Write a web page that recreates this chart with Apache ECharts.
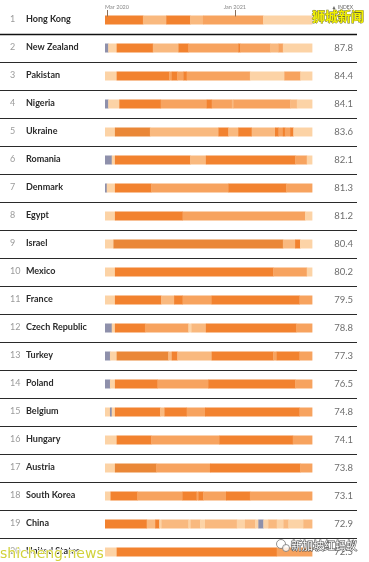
<!DOCTYPE html>
<html><head><meta charset="utf-8">
<script src="https://cdn.jsdelivr.net/npm/echarts@6/dist/echarts.min.js"></script>
<style>html,body{margin:0;padding:0;background:#fff}#c{width:369px;height:562px}</style>
</head><body><div id="c"></div>
<script>
// ---- data ----
const countries = ['Hong Kong','New Zealand','Pakistan','Nigeria','Ukraine','Romania','Denmark','Egypt','Israel','Mexico','France','Czech Republic','Turkey','Poland','Belgium','Hungary','Austria','South Korea','China','United States'];
const ranks = [1,2,3,4,5,6,7,8,9,10,11,12,13,14,15,16,17,18,19,20];
const indexValues = [null,87.8,84.4,84.1,83.6,82.1,81.3,81.2,80.4,80.2,79.5,78.8,77.3,76.5,74.8,74.1,73.8,73.1,72.9,72.5];
// weeks since 24 Feb 2020
const weekEnd = 71;
const tickWeeks = [0.71, 44.57];
const tickLabels = ['Mar 2020', 'Jan 2021'];
// each stripe: [startWeek, level] ; level 0 = grey, 1..5 = pale .. dark orange
const stripes = [
  [[0,4],[13,2],[21,4],[29.2,2],[33.6,3],[54.2,1]],
  [[0,0],[1.1,1],[4,4],[16.4,2],[25.2,4],[28.6,3],[45.7,4],[46.3,3],[56.6,2],[59.5,3],[61,1]],
  [[0,1],[4,4],[22,3],[22.9,4],[24.8,3],[26.9,4],[28,3],[49.7,1],[61.5,3],[67,1]],
  [[0,0],[1.1,1],[4.9,4],[19.1,3],[34.9,4],[36.6,3],[43.5,2],[44,3],[63.5,2],[65.8,1]],
  [[0,1],[3.4,5],[15.4,2],[38.9,4],[42.3,2],[45.7,4],[50.3,2],[58.3,4],[59.5,3],[61,4],[61.7,3],[63.5,4],[64.6,1]],
  [[0,0],[2.3,1],[3.4,4],[29.2,2],[34.6,4],[65.2,3],[69.2,1]],
  [[0,0],[0.6,1],[3.4,4],[15.8,3],[42.3,4],[62.1,3]],
  [[0,1],[3.4,4],[26.6,3],[68.6,1]],
  [[0,1],[2.9,5],[61,2],[65.2,4],[66.9,1]],
  [[0,1],[3.4,4],[57.7,3],[69.2,1]],
  [[0,1],[3.4,4],[19.2,2],[23.7,4],[26.6,3],[36.6,4],[66.7,3]],
  [[0,0],[2.3,1],[3.4,4],[13.7,3],[28.6,1],[29.7,2],[34.6,4],[65.5,3]],
  [[0,0],[1.7,1],[4,5],[21.7,2],[22.9,4],[24.8,2],[36.6,4],[57.7,3],[58.9,4],[66.7,3]],
  [[0,0],[1.7,1],[3.4,4],[18,3],[35.4,4],[65.2,3]],
  [[0,1],[1.7,0],[2.3,1],[3.4,4],[18.9,2],[20.4,4],[28,3],[34.3,4],[66.7,3]],
  [[0,1],[4,4],[15.8,3],[39.2,4],[64.4,3]],
  [[0,1],[3.4,5],[17.5,3],[36,4],[66.9,3]],
  [[0,1],[1.9,4],[11.1,3],[26.6,4],[31.4,3],[32,4],[33.7,3],[41.5,4],[49.7,3]],
  [[0,4],[14.3,2],[17.2,4],[18.6,1],[19.4,2],[28.6,1],[29.4,2],[32.6,1],[34.3,2],[45.2,1],[48,2],[51.5,1],[52.6,0],[54.3,1],[56,2],[58.9,1],[61.2,2],[62.9,1],[68,2]],
  [[0,1],[4,4],[58.9,3]]
];
const levelColors = ['#8e90ab','#fcd3a6','#f9b97f','#f7a35f','#f2822f','#ea8737'];

// ---- build ----
const segData = [];
stripes.forEach((segs, row) => {
  segs.forEach((s, j) => {
    const end = j + 1 < segs.length ? segs[j + 1][0] : weekEnd;
    segData.push([s[0], end, row, s[1]]);
  });
});
const sepData = countries.slice(1).map((c, i) => [0, i]);
const tickData = tickWeeks.map(w => [w, 0]);

const chart = echarts.init(document.getElementById('c'), null, {renderer: 'canvas'});
chart.setOption({
  animation: false,
  backgroundColor: '#fff',
  grid: {left: 105, top: 6, width: 207, height: 560, containLabel: false, outerBoundsMode: 'none'},
  xAxis: {type: 'value', min: 0, max: weekEnd, show: false},
  yAxis: [{
    type: 'category', inverse: true, data: countries,
    axisLine: {show: false}, axisTick: {show: false}, splitLine: {show: false},
    axisLabel: {
      interval: 0, align: 'left', margin: 95,
      formatter: (v, i) => '{r|' + ranks[i] + '}{n|' + v + '}',
      rich: {
        r: {width: 16, fontSize: 9, color: '#9a9a9a', fontFamily: 'Lato', padding: [0, 0, 1, 0]},
        n: {fontSize: 9, fontWeight: 'bold', color: '#2b2b2b', fontFamily: 'Lato', padding: [0, 0, 1, 0]}
      }
    }
  }, {
    type: 'category', inverse: true, position: 'right',
    data: indexValues.map(v => v == null ? '' : v.toFixed(1)),
    axisLine: {show: false}, axisTick: {show: false}, splitLine: {show: false},
    axisLabel: {interval: 0, align: 'right', margin: 41, fontSize: 9.5, color: '#6e6e6e', fontFamily: 'Lato', padding: [0, 0, 2, 0]}
  }],
  series: [{
    type: 'custom', name: 'stripes', data: segData,
    encode: {x: [0, 1], y: 2},
    renderItem: (params, api) => {
      const p1 = api.coord([api.value(0), api.value(2)]);
      const p2 = api.coord([api.value(1), api.value(2)]);
      const h = 9;
      return {type: 'rect', shape: {x: p1[0], y: p1[1] - h / 2, width: p2[0] - p1[0] + 0.4, height: h},
        style: {fill: levelColors[api.value(3)]}};
    }
  }, {
    type: 'custom', name: 'separators', data: sepData,
    encode: {x: 0, y: 1},
    renderItem: (params, api) => {
      const p = api.coord([0, api.value(1)]);
      const band = api.size([0, 1])[1];
      const y = Math.round(p[1] + band / 2) + 0.5;
      const cs = params.coordSys;
      return {type: 'line', shape: {x1: 0, y1: y, x2: cs.x + cs.width + 45, y2: y},
        style: {stroke: params.dataIndex === 0 ? '#111' : '#2a2a2a', lineWidth: params.dataIndex === 0 ? 1.6 : 1}};
    }
  }, {
    type: 'custom', name: 'timeTicks', data: tickData,
    encode: {x: 0, y: 1}, z: 5,
    renderItem: (params, api) => {
      const p = api.coord([api.value(0), 0]);
      const top = p[1] - 4.5;
      const x = Math.round(p[0]) + 0.5;
      const first = params.dataIndex === 0;
      return {type: 'group', children: [
        {type: 'line', shape: {x1: x, y1: top - 5.5, x2: x, y2: top + 1}, style: {stroke: '#8a6f5a', lineWidth: 1}},
        {type: 'text', x: first ? p[0] - 2 : p[0], y: top - 8.5,
          style: {text: tickLabels[params.dataIndex], align: first ? 'left' : 'center', verticalAlign: 'middle',
            fontSize: 5.5, fill: '#888', fontFamily: 'Lato'}}
      ]};
    }
  }],
  graphic: [
    {type: 'text', x: 353, y: 7.5, z: 10, style: {text: '▲ INDEX', align: 'right', verticalAlign: 'middle', fontSize: 5, fill: '#666', fontFamily: 'Lato'}},
    {type: 'text', x: 338, y: 16.5, z: 20, style: {text: '狮城新闻', align: 'center', verticalAlign: 'middle', fontSize: 13, fontWeight: 'bold',
      fontFamily: 'Noto Sans CJK SC', fill: '#f2f000', stroke: '#6b6a30', lineWidth: 0.8}},
    {type: 'text', x: 0, y: 554, z: 20, style: {text: 'shicheng.news', align: 'left', verticalAlign: 'middle', fontSize: 14,
      fontFamily: 'DejaVu Sans', fill: '#d2d23c', stroke: '#ffffff', lineWidth: 1.5}},
    {type: 'circle', shape: {cx: 281, cy: 544, r: 4.5}, z: 20, style: {fill: 'rgba(255,255,255,0.8)', stroke: '#777', lineWidth: 0.8}},
    {type: 'circle', shape: {cx: 286, cy: 548, r: 3.5}, z: 20, style: {fill: 'rgba(255,255,255,0.8)', stroke: '#777', lineWidth: 0.8}},
    {type: 'text', x: 357, y: 546, z: 20, style: {text: '新加坡红蚂蚁', align: 'right', verticalAlign: 'middle', fontSize: 11,
      fontFamily: 'Noto Sans CJK SC', fill: '#ffffff', stroke: '#555', lineWidth: 1.2}}
  ]
});
</script></body></html>
